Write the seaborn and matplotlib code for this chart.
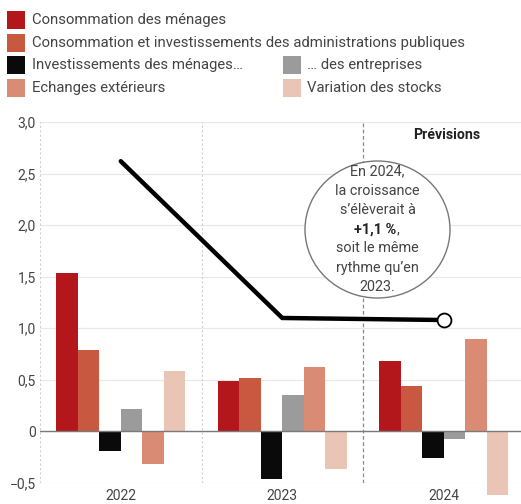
import matplotlib
matplotlib.use("Agg")
import matplotlib.pyplot as plt
import seaborn as sns
import pandas as pd
from matplotlib.patches import Rectangle, Ellipse

# ---- data ----
years = ["2022", "2023", "2024"]
components = [
    "Consommation des ménages",
    "Consommation et investissements des administrations publiques",
    "Investissements des ménages…",
    "… des entreprises",
    "Echanges extérieurs",
    "Variation des stocks",
]
conso_menages = [1.54, 0.49, 0.68]
conso_apu = [0.79, 0.52, 0.44]
invest_menages = [-0.19, -0.46, -0.26]
invest_entreprises = [0.22, 0.35, -0.07]
echanges_ext = [-0.32, 0.62, 0.90]
var_stocks = [0.59, -0.36, -0.62]
croissance = [2.62, 1.10, 1.08]
colors = ["#B3161B", "#C95840", "#0A0A0A", "#9B9B9B", "#D98B74", "#EAC4B4"]
yticks = [-0.5, 0, 0.5, 1.0, 1.5, 2.0, 2.5, 3.0]
ytick_labels = ["\u22120,5", "0", "0,5", "1,0", "1,5", "2,0", "2,5", "3,0"]
bubble_lines = ["En 2024,", "la croissance", "s\u2019élèverait à", "+1,1 %", "soit le même",
                "rythme qu\u2019en", "2023."]
prev_label = "Prévisions"

series = [conso_menages, conso_apu, invest_menages, invest_entreprises, echanges_ext, var_stocks]
rows = []
for comp, vals in zip(components, series):
    for y, v in zip(years, vals):
        rows.append({"annee": y, "composante": comp, "valeur": v})
df = pd.DataFrame(rows)

sns.set_style("white")
plt.rcParams["font.family"] = ["Roboto", "DejaVu Sans"]

W, H = 521, 504
fig = plt.figure(figsize=(W / 100, H / 100), dpi=100)
ax = fig.add_axes([40 / W, (H - 483) / H, (W - 40) / W, (483 - 122) / H])

sns.barplot(data=df, x="annee", y="valeur", hue="composante", order=years,
            hue_order=components, palette=colors, saturation=1, width=0.8,
            linewidth=0, legend=False, ax=ax, zorder=2)
for p in ax.patches:
    p.set_clip_on(False)

sns.lineplot(x=[0, 1, 2], y=croissance, color="black", linewidth=3.2, ax=ax,
             zorder=4, solid_capstyle="round", solid_joinstyle="miter")
ax.plot([2], [croissance[-1]], "o", mfc="white", mec="black", ms=10, mew=1.3,
        zorder=5, clip_on=False)

ax.set_ylim(-0.5, 3.0)
ax.set_xlim(-0.5, 2.478)
ax.set_yticks(yticks)
ax.set_yticklabels(ytick_labels)
ax.set_xticks([0, 1, 2])
ax.set_xticklabels(years)
ax.tick_params(axis="both", length=0, labelsize=10, labelcolor="#444444")
ax.tick_params(axis="y", pad=3)
ax.tick_params(axis="x", pad=4.5)
ax.set_xlabel("")
ax.set_ylabel("")
for s in ax.spines.values():
    s.set_visible(False)
ax.grid(axis="y", color="#e8e8e8", linewidth=0.9, zorder=0)
ax.grid(axis="x", visible=False)
ax.set_axisbelow(True)
ax.axhline(0, color="#7a7a7a", linewidth=1.0, zorder=3)
ax.axvline(-0.5, color="#cfcfcf", linewidth=0.8, linestyle=(0, (2, 2)), zorder=1)
ax.axvline(0.5, color="#cfcfcf", linewidth=0.8, linestyle=(0, (2, 2)), zorder=1)
ax.axvline(1.5, color="#8a8a8a", linewidth=0.9, linestyle=(0, (3, 2)), zorder=1)

# Prévisions label
fig.text(447 / W, 1 - 135 / H, prev_label, fontweight="bold", ha="center",
         va="center", fontsize=10.2, color="#222222")

# Bubble
ell = Ellipse((377.5 / W, 1 - 229.5 / H), 145 / W, 137 / H, transform=fig.transFigure,
              facecolor="white", edgecolor="#777777", linewidth=1.0, zorder=6)
fig.add_artist(ell)
for i, line in enumerate(bubble_lines):
    yy = 1 - (171.7 + i * 19.2) / H
    if i == 3:
        t = fig.text(377.5 / W - 2 / W, yy, line, ha="center", va="center", fontsize=10.4,
                     fontweight="bold", color="#222222", zorder=7)
        fig.canvas.draw()
        bb = t.get_window_extent()
        fig.text(bb.x1 / W, yy, ",", ha="left", va="center", fontsize=10.4,
                 color="#444444", zorder=7)
    else:
        fig.text(377.5 / W, yy, line, ha="center", va="center", fontsize=10.4,
                 color="#444444", zorder=7)

# Legend
legend_pos = [(7, 32, 20), (7, 32, 42.5), (7, 32, 65), (283, 307, 65), (7, 32, 88), (283, 307, 88)]
for comp, col, (sx, tx, cy) in zip(components, colors, legend_pos):
    fig.add_artist(Rectangle((sx / W, 1 - (cy + 9) / H), 18 / W, 18 / H,
                             transform=fig.transFigure, facecolor=col, edgecolor="none"))
    fig.text(tx / W, 1 - cy / H, comp, ha="left", va="center", fontsize=10.7,
             color="#444444")

fig.savefig("out.png", dpi=100)
